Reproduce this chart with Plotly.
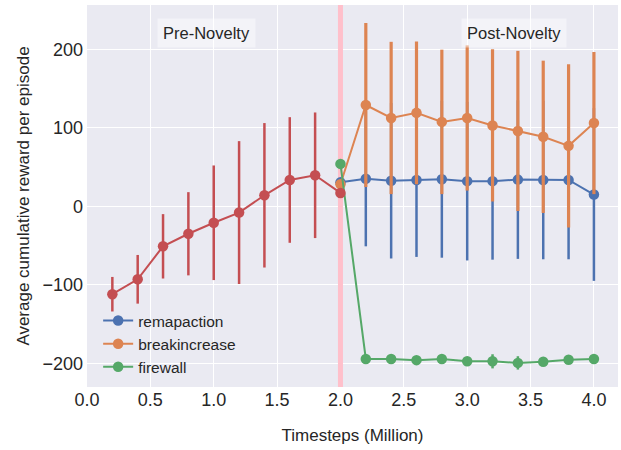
import plotly.graph_objects as go

# Pre-novelty series (red)
pre_x = [0.2, 0.4, 0.6, 0.8, 1.0, 1.2, 1.4, 1.6, 1.8, 2.0]
pre_y = [-112, -93, -51, -35, -21, -8, 14, 33.5, 39.5, 17]
pre_err = [22, 31, 41, 53, 73, 91, 92, 80, 80, 3]

post_x = [2.0, 2.2, 2.4, 2.6, 2.8, 3.0, 3.2, 3.4, 3.6, 3.8, 4.0]
remap_y = [30.5, 35, 32.5, 33.5, 34.5, 32, 32, 34, 33.5, 33.5, 15]
remap_err = [3, 86, 99, 98, 100, 101, 100, 101, 101, 101, 110]
break_y = [28, 129, 112.5, 119, 107.5, 112.5, 103, 96, 88.5, 77, 106]
break_err = [3, 104.5, 97, 91, 92, 92.5, 97, 102, 97, 104, 90.5]
fire_y = [54, -194.5, -194.5, -196, -194.5, -197.5, -197.5, -199.5, -198, -195.5, -194.5]
fire_err = [3, 3, 3, 3, 3, 3, 9, 8.5, 3, 3, 3]

names = ["remapaction", "breakincrease", "firewall"]
colors = ["#4C72B0", "#DD8452", "#55A868", "#C44E52"]
err_thick = [2.5, 3.2, 2.5]

novelty_x = 2.0
x_range = [0.0, 4.19]
y_range = [-230.2, 256.4]

font = "Liberation Sans, Arial, sans-serif"
fig = go.Figure()

# novelty marker line (drawn first, under data, above grid)
fig.add_trace(go.Scatter(
    x=[novelty_x, novelty_x], y=y_range, mode="lines", showlegend=False,
    hoverinfo="skip", line=dict(color="#FFC0CB", width=5),
))

for name, ys, errs, col, th in zip(names, [remap_y, break_y, fire_y],
                                   [remap_err, break_err, fire_err], colors[:3], err_thick):
    fig.add_trace(go.Scatter(
        x=post_x, y=ys, name=name, mode="lines+markers",
        line=dict(color=col, width=2),
        marker=dict(color=col, size=10.5),
        error_y=dict(type="data", array=errs, color=col, thickness=th, width=0),
    ))

fig.add_trace(go.Scatter(
    x=pre_x, y=pre_y, mode="lines+markers", showlegend=False,
    line=dict(color=colors[3], width=2),
    marker=dict(color=colors[3], size=10.5),
    error_y=dict(type="data", array=pre_err, color=colors[3], thickness=2.5, width=0),
))

for txt, xv in [("Pre-Novelty", 0.94), ("Post-Novelty", 3.37)]:
    fig.add_annotation(x=xv, y=221, text=txt, showarrow=False,
                       font=dict(family=font, size=16.5, color="#262626"),
                       bgcolor="rgba(255,255,255,0.45)", borderpad=5)

fig.update_layout(
    width=621, height=450,
    margin=dict(l=87, r=3, t=5, b=63),
    plot_bgcolor="#EAEAF2", paper_bgcolor="white",
    font=dict(family=font, size=18, color="#262626"),
    legend=dict(x=0.021, y=0.008, xanchor="left", yanchor="bottom",
                bgcolor="rgba(0,0,0,0)", font=dict(size=15.5), tracegroupgap=0),
    xaxis=dict(range=x_range, tickvals=[0, 0.5, 1, 1.5, 2, 2.5, 3, 3.5, 4],
               ticktext=["0.0", "0.5", "1.0", "1.5", "2.0", "2.5", "3.0", "3.5", "4.0"],
               showgrid=True, gridcolor="white", gridwidth=1.3, zeroline=False,
               showline=False, ticks="", automargin=False,
               title=dict(text="Timesteps (Million)", font=dict(size=17), standoff=20)),
    yaxis=dict(range=y_range, tickvals=[-200, -100, 0, 100, 200],
               showgrid=True, gridcolor="white", gridwidth=1.3, zeroline=False,
               showline=False, ticks="", automargin=False, ticklabelstandoff=3,
               title=dict(text="Average cumulative reward per episode", font=dict(size=17), standoff=8)),
)

fig.write_html("out.html", config={"displayModeBar": False},
               post_script="document.body.style.margin='0';document.body.style.overflow='hidden';")
